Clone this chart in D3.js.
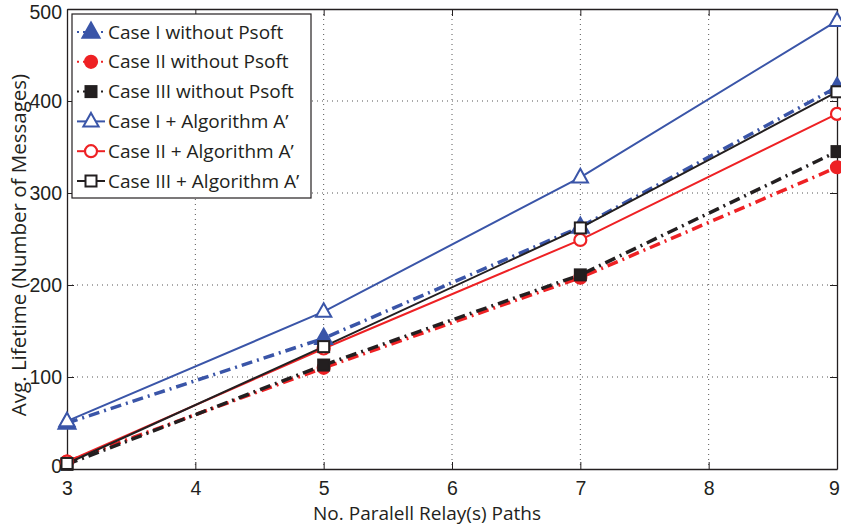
<!DOCTYPE html>
<html>
<head>
<meta charset="utf-8">
<script src="https://cdn.jsdelivr.net/npm/d3@7"></script>
<style>
  html, body { margin: 0; padding: 0; background: #fff; }
  svg { display: block; font-family: "Open Sans", "DejaVu Sans", sans-serif; }
</style>
</head>
<body>
<svg id="chart" width="841" height="531"></svg>
<script>
// Number of parallel relay paths
const paths = [3, 5, 7, 9];
const xTicks = [3, 4, 5, 6, 7, 8, 9];
const yTicks = [0, 100, 200, 300, 400, 500];

// Average lifetime (number of messages) per case
const case1NoPsoft = [50, 142, 263, 415];
const case2NoPsoft = [8, 110, 208, 328];
const case3NoPsoft = [5, 113, 211, 345];
const case1AlgA = [52, 171, 317, 487];
const case2AlgA = [8, 131, 249, 386];
const case3AlgA = [6, 133, 262, 410];

const seriesNames = [
  "Case I without Psoft", "Case II without Psoft", "Case III without Psoft",
  "Case I + Algorithm A\u2019", "Case II + Algorithm A\u2019", "Case III + Algorithm A\u2019"
];

const blue = "#3a55a8", red = "#ee2124", black = "#231f20";

const series = [
  { name: seriesNames[0], values: case1NoPsoft, color: blue, dash: "11,5,2,5", marker: "tri", filled: true },
  { name: seriesNames[1], values: case2NoPsoft, color: red, dash: "11,5,2,5", marker: "circ", filled: true },
  { name: seriesNames[2], values: case3NoPsoft, color: black, dash: "11,5,2,5", marker: "sq", filled: true },
  { name: seriesNames[3], values: case1AlgA, color: blue, dash: null, marker: "tri", filled: false },
  { name: seriesNames[4], values: case2AlgA, color: red, dash: null, marker: "circ", filled: false },
  { name: seriesNames[5], values: case3AlgA, color: black, dash: null, marker: "sq", filled: false }
];

const svg = d3.select("#chart");
const pLeft = 67, pRight = 837, pTop = 9, pBottom = 469;

const x = d3.scaleLinear().domain([3, 9]).range([pLeft, pRight]);
const y = d3.scaleLinear().domain([0, 500]).range([pBottom, pTop]);

// Dotted grid
const grid = svg.append("g").attr("stroke", "#555").attr("stroke-width", 1)
  .attr("stroke-dasharray", "1,4");
grid.selectAll(".gx").data(xTicks.slice(1, -1)).join("line")
  .attr("x1", d => x(d)).attr("x2", d => x(d)).attr("y1", pTop).attr("y2", pBottom);
grid.selectAll(".gy").data(yTicks.slice(1, -1)).join("line")
  .attr("y1", d => y(d)).attr("y2", d => y(d)).attr("x1", pLeft).attr("x2", pRight);

// Axes with inward ticks on all four sides
const axB = svg.append("g").attr("transform", `translate(0,${pBottom})`)
  .call(d3.axisBottom(x).tickValues(xTicks).tickFormat(d3.format("d")).tickSizeInner(-7).tickSizeOuter(0).tickPadding(12));
const axL = svg.append("g").attr("transform", `translate(${pLeft},0)`)
  .call(d3.axisLeft(y).tickValues(yTicks).tickFormat(d3.format("d")).tickSizeInner(-7).tickSizeOuter(0).tickPadding(5));
const axT = svg.append("g").attr("transform", `translate(0,${pTop})`)
  .call(d3.axisTop(x).tickValues(xTicks).tickFormat("").tickSizeInner(-7).tickSizeOuter(0));
const axR = svg.append("g").attr("transform", `translate(${pRight},0)`)
  .call(d3.axisRight(y).tickValues(yTicks).tickFormat("").tickSizeInner(-7).tickSizeOuter(0));
[axB, axL, axT, axR].forEach(a => {
  a.select(".domain").attr("stroke", black).attr("stroke-width", 1.3);
  a.selectAll(".tick line").attr("stroke", black).attr("stroke-width", 1);
  a.selectAll("text").attr("fill", black).attr("font-size", 19.5).attr("font-family", null);
});
axB.selectAll(".tick text").attr("dy", "0.71em");
axL.selectAll(".tick text").attr("dy", "0.35em");
// End labels nudged to stay within the canvas and off the corner
axL.selectAll(".tick").filter(d => d === 0).select("text").attr("dy", "0.2em");
axL.selectAll(".tick").filter(d => d === 500).select("text").attr("dy", "0.48em");
axB.selectAll(".tick").filter(d => d === 9).select("text").attr("dx", -3);

// Axis titles
svg.append("text").attr("x", 427).attr("y", 520)
  .attr("text-anchor", "middle").attr("font-size", 19).attr("fill", black)
  .text("No. Paralell Relay(s) Paths");
svg.append("text").attr("transform", `translate(26,245) rotate(-90)`)
  .attr("text-anchor", "middle").attr("font-size", 20.5).attr("fill", black)
  .text("Avg. Lifetime (Number of Messages)");

// Marker drawing
function drawMarker(g, s, cx, cy) {
  const fill = s.filled ? s.color : "#fff";
  const sw = 2;
  if (s.marker === "tri") {
    const r = s.filled ? 9.5 : 8.5;
    g.append("path").attr("d", `M${cx},${cy - r}L${cx + r * 0.9},${cy + r * 0.6}L${cx - r * 0.9},${cy + r * 0.6}Z`)
      .attr("fill", fill).attr("stroke", s.color).attr("stroke-width", sw);
  } else if (s.marker === "circ") {
    g.append("circle").attr("cx", cx).attr("cy", cy).attr("r", 6)
      .attr("fill", fill).attr("stroke", s.color).attr("stroke-width", 2.2);
  } else {
    g.append("rect").attr("x", cx - 5.5).attr("y", cy - 5.5).attr("width", 11).attr("height", 11)
      .attr("fill", fill).attr("stroke", s.color).attr("stroke-width", sw);
  }
}

const line = d3.line().x((d, i) => x(paths[i])).y(d => y(d));

// Plot: dashed series first, then solid on top
const plot = svg.append("g");
series.forEach(s => {
  plot.append("path").datum(s.values).attr("d", line)
    .attr("fill", "none").attr("stroke", s.color)
    .attr("stroke-width", s.dash ? 3.5 : 2)
    .attr("stroke-dasharray", s.dash);
});
series.forEach(s => {
  const g = plot.append("g");
  s.values.forEach((v, i) => drawMarker(g, s, x(paths[i]), y(v)));
});

// Legend
const lg = svg.append("g");
lg.append("rect").attr("x", 72).attr("y", 14).attr("width", 239).attr("height", 184)
  .attr("fill", "#fff").attr("stroke", black).attr("stroke-width", 1.2);
series.forEach((s, i) => {
  const cy = 32 + i * 29.8;
  lg.append("line").attr("x1", 77).attr("x2", 105).attr("y1", cy).attr("y2", cy)
    .attr("stroke", s.color).attr("stroke-width", 2)
    .attr("stroke-dasharray", s.dash ? "2,4" : null);
  drawMarker(lg, s, 91, cy);
  lg.append("text").attr("x", 108).attr("y", cy).attr("dy", "0.35em")
    .attr("font-size", 19).attr("fill", black).text(s.name);
});
</script>
</body>
</html>
